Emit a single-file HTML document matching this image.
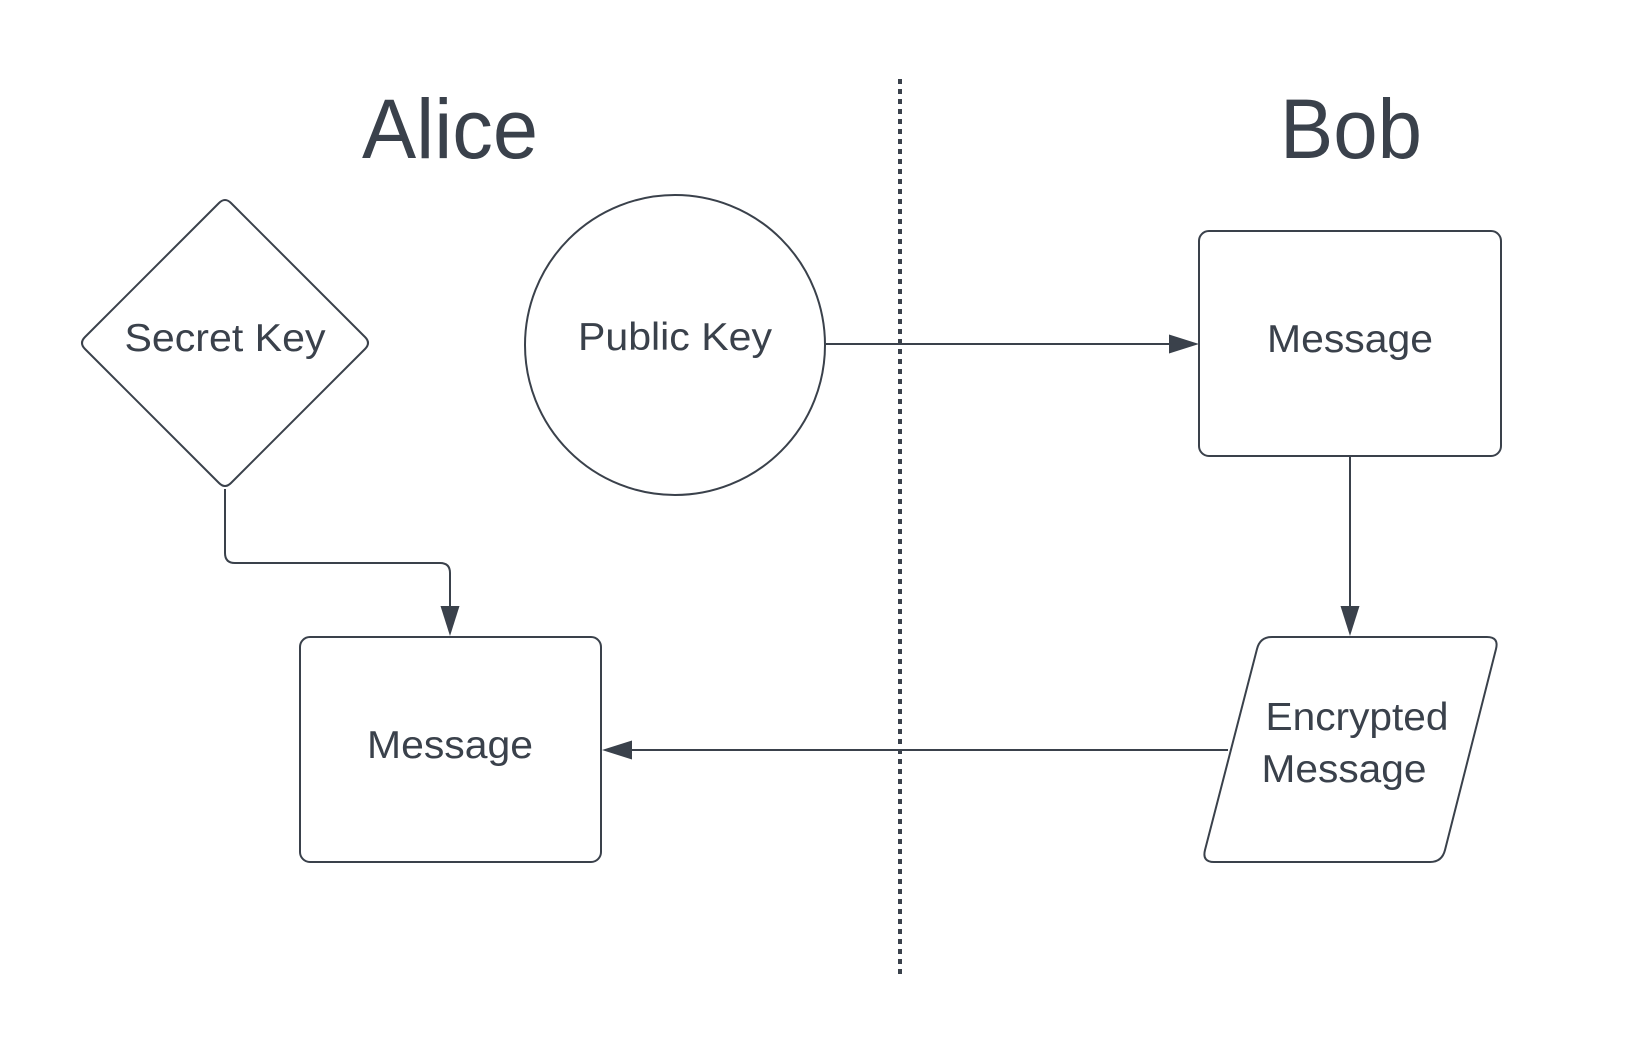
<!DOCTYPE html>
<html><head><meta charset="utf-8"><style>html,body{margin:0;padding:0;background:#fff}svg{display:block}</style></head>
<body>
<svg width="1650" height="1052" viewBox="0 0 1650 1052" xmlns="http://www.w3.org/2000/svg" font-family="Liberation Sans, sans-serif" fill="#3a414b">
<rect width="1650" height="1052" fill="#fff"/>
<line x1="900" y1="79" x2="900" y2="978" stroke="#3a414b" stroke-width="4" stroke-dasharray="5 5"/>
<text x="450" y="158" font-size="84" text-anchor="middle" textLength="176" lengthAdjust="spacingAndGlyphs">Alice</text>
<text x="1351" y="158" font-size="84" text-anchor="middle" textLength="142" lengthAdjust="spacingAndGlyphs">Bob</text>
<g fill="none" stroke="#3a414b" stroke-width="2">
<path d="M219 203 Q225 197 231 203 L365 337 Q371 343 365 349 L231 483 Q225 489 219 483 L85 349 Q79 343 85 337 Z"/>
<circle cx="675" cy="345" r="150"/>
<rect x="1199" y="231" width="302" height="225" rx="10"/>
<rect x="300" y="637" width="301" height="225" rx="10"/>
<path d="M1272 637 L1487 637 Q1499 637 1496 649 L1445 850 Q1442 862 1430 862 L1214 862 Q1202 862 1205 850 L1257 649 Q1260 637 1272 637 Z"/>
<path d="M826 344 L1170 344"/>
<path d="M1350 456 L1350 608"/>
<path d="M1228 750 L630 750"/>
<path d="M225 489 L225 553 Q225 563 235 563 L440 563 Q450 563 450 573 L450 608"/>
</g>
<path d="M1199 344 L1169 334.5 L1169 353.5 Z"/>
<path d="M1350 636 L1340.5 606 L1359.5 606 Z"/>
<path d="M602 750 L632 740.5 L632 759.5 Z"/>
<path d="M450 636 L440.5 606 L459.5 606 Z"/>
<g font-size="39" text-anchor="middle">
<text x="225" y="351" textLength="201" lengthAdjust="spacingAndGlyphs">Secret Key</text>
<text x="675" y="350" textLength="194" lengthAdjust="spacingAndGlyphs">Public Key</text>
<text x="1350" y="352" textLength="166" lengthAdjust="spacingAndGlyphs">Message</text>
<text x="450" y="758" textLength="166" lengthAdjust="spacingAndGlyphs">Message</text>
<text x="1357" y="730" textLength="183" lengthAdjust="spacingAndGlyphs">Encrypted</text>
<text x="1344" y="782" textLength="165" lengthAdjust="spacingAndGlyphs">Message</text>
</g>
</svg>
</body></html>
